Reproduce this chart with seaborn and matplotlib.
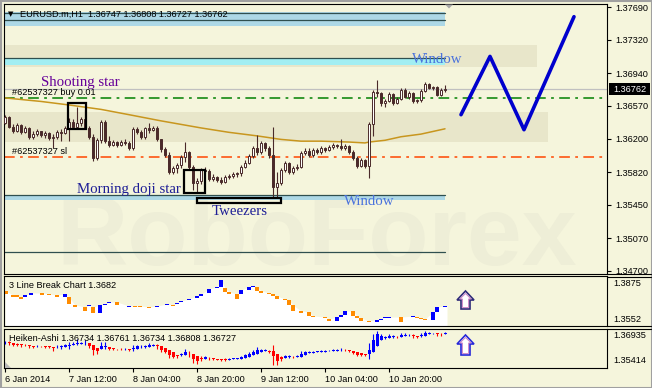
import matplotlib
matplotlib.use("Agg")
import matplotlib.pyplot as plt
from matplotlib.patches import Rectangle, Polygon
from matplotlib.transforms import Affine2D
import seaborn as sns
import numpy as np
import pandas as pd

# ---------------- data ----------------
first_open = 1.3638
closes = [
    1.3644, 1.3633, 1.3628, 1.3635, 1.3627, 1.3632, 1.3622, 1.3625, 1.3628, 1.3624,
    1.3626, 1.3621, 1.3622, 1.3627, 1.3626, 1.3632, 1.3639, 1.3633, 1.3638, 1.3642,
    1.3632, 1.3622, 1.3598, 1.3618, 1.3639, 1.3617, 1.3613, 1.3616, 1.3613, 1.3616,
    1.3615, 1.3609, 1.3631, 1.3627, 1.3622, 1.3632, 1.3630, 1.3632, 1.3619, 1.3608,
    1.3601, 1.3582, 1.3587, 1.3590, 1.3599, 1.3605, 1.3588, 1.3570, 1.3572, 1.3584,
    1.3583, 1.3574, 1.3576, 1.3573, 1.3571, 1.3576, 1.3578, 1.3580, 1.3581, 1.3588,
    1.3592, 1.3600, 1.3609, 1.3605, 1.3615, 1.3609, 1.3601, 1.3565, 1.3570, 1.3584,
    1.3592, 1.3582, 1.3587, 1.3588, 1.3604, 1.3606, 1.3601, 1.3607, 1.3605, 1.3609,
    1.3607, 1.3610, 1.3613, 1.3611, 1.3609, 1.3611, 1.3605, 1.3598, 1.3589, 1.3596,
    1.3589, 1.3636, 1.3673, 1.3672, 1.3660, 1.3662, 1.3670, 1.3660, 1.3665, 1.3675,
    1.3667, 1.3672, 1.3662, 1.3664, 1.3674, 1.3682, 1.3677, 1.3678, 1.3669, 1.36747,
    1.36762]
highs = [
    1.3647, 1.3645, 1.3636, 1.3638, 1.3636, 1.3634, 1.3633, 1.3628, 1.3631, 1.3628,
    1.3628, 1.3627, 1.3625, 1.3630, 1.3631, 1.3634, 1.3643, 1.3642, 1.3656, 1.3644,
    1.3652, 1.3634, 1.3625, 1.3621, 1.3641, 1.3641, 1.3623, 1.3618, 1.3617, 1.3618,
    1.3619, 1.3617, 1.3633, 1.3633, 1.3630, 1.3633, 1.3638, 1.3634, 1.3634, 1.3620,
    1.3610, 1.3605, 1.3589, 1.3592, 1.3601, 1.3616, 1.3606, 1.3590, 1.3575, 1.3587,
    1.3588, 1.3585, 1.3580, 1.3578, 1.3576, 1.3579, 1.3580, 1.3582, 1.3582, 1.3590,
    1.3596, 1.3602, 1.3611, 1.3624, 1.3617, 1.3616, 1.3611, 1.3633, 1.3582, 1.3587,
    1.3594, 1.3593, 1.3589, 1.3591, 1.3606, 1.3609, 1.3609, 1.3609, 1.3609, 1.3611,
    1.3610, 1.3613, 1.3615, 1.3614, 1.3619, 1.3614, 1.3613, 1.3607, 1.3600, 1.3598,
    1.3597, 1.3639, 1.3675, 1.3686, 1.3673, 1.3665, 1.3673, 1.3672, 1.3667, 1.3677,
    1.3677, 1.3674, 1.3673, 1.3665, 1.3676, 1.3684, 1.3683, 1.3679, 1.3679, 1.3677,
    1.36808]
lows = [
    1.3636, 1.3632, 1.3626, 1.3627, 1.3625, 1.3626, 1.3619, 1.3619, 1.3623, 1.3622,
    1.3621, 1.3618, 1.3609, 1.3619, 1.3617, 1.3625, 1.3617, 1.3632, 1.3631, 1.3634,
    1.3631, 1.3619, 1.3594, 1.3596, 1.3615, 1.3615, 1.3610, 1.3611, 1.3610, 1.3611,
    1.3613, 1.3607, 1.3607, 1.3625, 1.3619, 1.3619, 1.3626, 1.3628, 1.3617, 1.3605,
    1.3599, 1.3580, 1.3580, 1.3581, 1.3587, 1.3593, 1.3585, 1.3562, 1.3558, 1.3568,
    1.3581, 1.3572, 1.3572, 1.3571, 1.3568, 1.3570, 1.3574, 1.3575, 1.3576, 1.3578,
    1.3587, 1.3591, 1.3598, 1.3601, 1.3602, 1.3606, 1.3598, 1.3554, 1.3554, 1.3567,
    1.3582, 1.3580, 1.3580, 1.3584, 1.3587, 1.3601, 1.3599, 1.3599, 1.3602, 1.3602,
    1.3605, 1.3606, 1.3608, 1.3609, 1.3607, 1.3607, 1.3602, 1.3596, 1.3587, 1.3588,
    1.3587, 1.3575, 1.3623, 1.3667, 1.3657, 1.3656, 1.3661, 1.3658, 1.3659, 1.3664,
    1.3666, 1.3665, 1.3660, 1.3660, 1.3661, 1.3673, 1.3676, 1.3675, 1.3668, 1.3668,
    1.36727]

ma_bars = [0, 9, 16, 24, 31, 39, 49, 56, 63, 69, 74, 79, 86, 90, 91, 95, 99, 104, 110]
ma_values = [1.3666, 1.3662, 1.3658, 1.3653, 1.3647, 1.3640, 1.3632, 1.3627, 1.3623, 1.3619,
             1.3617, 1.3617, 1.3616, 1.3615, 1.3616, 1.3618, 1.3622, 1.3625, 1.3631]

zigzag_bars = [114, 121.25, 129.75, 142.25]
zigzag_values = [1.3647, 1.3713, 1.3630, 1.3758]

buy_level = 1.3666
sl_level = 1.3599
last_price = 1.36762
price_ticks = [1.37690, 1.37320, 1.36940, 1.36570, 1.36200, 1.35820, 1.35450, 1.35070, 1.34700]

lb_bars = [0.25, 2, 3, 4, 5, 6.5, 9.25, 11, 13, 15,
           16, 17.5, 20, 21, 22, 23.75, 25, 26, 28, 31,
           32.5, 33.75, 36, 38, 40.5, 42, 43, 44, 46, 48,
           49, 51, 53, 54, 55, 56, 58, 59, 61, 62,
           63, 64, 66, 67, 68, 70, 71, 72, 74, 76,
           77, 80, 81, 83, 84, 85, 87, 88, 89, 91,
           93, 94, 95, 96, 99, 102, 103, 104, 105, 107,
           108, 110]
lb_top = [1.3783, 1.3756, 1.3756, 1.3743, 1.3756, 1.3770, 1.3770, 1.3763, 1.3756, 1.3763,
          1.3743, 1.3690, 1.3677, 1.3690, 1.3677, 1.3690, 1.3697, 1.3710, 1.3710, 1.3684,
          1.3684, 1.3684, 1.3677, 1.3684, 1.3697, 1.3690, 1.3704, 1.3717, 1.3730, 1.3750,
          1.3763, 1.3796, 1.3809, 1.3855, 1.3803, 1.3776, 1.3763, 1.3789, 1.3809, 1.3816,
          1.3809, 1.3783, 1.3770, 1.3763, 1.3750, 1.3730, 1.3723, 1.3690, 1.3651, 1.3644,
          1.3618, 1.3611, 1.3598, 1.3611, 1.3625, 1.3651, 1.3651, 1.3618, 1.3605, 1.3585,
          1.3592, 1.3598, 1.3611, 1.3611, 1.3611, 1.3618, 1.3611, 1.3605, 1.3598, 1.3644,
          1.3677, 1.3684]
lb_bottom = [1.3763, 1.3743, 1.3743, 1.3730, 1.3743, 1.3756, 1.3756, 1.3756, 1.3743, 1.3743,
             1.3697, 1.3677, 1.3651, 1.3684, 1.3638, 1.3638, 1.3690, 1.3704, 1.3690, 1.3677,
             1.3677, 1.3677, 1.3671, 1.3677, 1.3690, 1.3684, 1.3697, 1.3710, 1.3723, 1.3737,
             1.3750, 1.3770, 1.3803, 1.3809, 1.3776, 1.3763, 1.3730, 1.3763, 1.3789, 1.3809,
             1.3783, 1.3770, 1.3763, 1.3750, 1.3730, 1.3723, 1.3690, 1.3651, 1.3638, 1.3618,
             1.3611, 1.3605, 1.3585, 1.3585, 1.3611, 1.3625, 1.3618, 1.3605, 1.3585, 1.3578,
             1.3578, 1.3592, 1.3605, 1.3608, 1.3578, 1.3611, 1.3605, 1.3598, 1.3592, 1.3592,
             1.3644, 1.3677]
lb_dir = list("oooobbooob" "ooobobbbob" "ooobbobbbb" "bbbbooobbb"
              "oooooooooo" "ooobbboooo" "bbbbobooob" "bb")

time_ticks = [0, 16, 32, 48, 64, 80, 96]
time_labels = ['6 Jan 2014', '7 Jan 12:00', '8 Jan 04:00', '8 Jan 20:00',
               '9 Jan 12:00', '10 Jan 04:00', '10 Jan 20:00']

# zones (price levels of drawn rectangles / lines)
zone_top = (1.37474, 1.37633)
zone_top_lines = [1.37622, 1.37542]
zone_beige1 = (1.37010, 1.37259)
zone_cyan2 = (1.37033, 1.37112)
zone_beige2 = (1.36155, 1.36500)
zone_cyan3 = (1.35503, 1.35560)
line_low = 1.34914

# ---------------- style ----------------
sns.set_theme(style="white")
plt.rcParams['font.family'] = ['Liberation Sans', 'DejaVu Sans']

W, H = 652, 388
BG = '#F5F5DC'
BAND = '#E8E6CA'
CANDLE = '#4A2A2A'
SMALL = 6.6

fig = plt.figure(figsize=(W / 100, H / 100), dpi=100, facecolor=BG)
PIX = Affine2D().scale(1.0 / W, -1.0 / H).translate(0, 1) + fig.transFigure


def ax_at(x0, y0, x1, y1):
    a = fig.add_axes([x0 / W, 1 - y1 / H, (x1 - x0) / W, (y1 - y0) / H])
    a.set_facecolor(BG)
    for s in a.spines.values():
        s.set_color('black')
        s.set_linewidth(0.8)
    return a


XL = (-0.25, 150.5)
ax = ax_at(4, 4, 607, 274)
ax2 = ax_at(4, 276, 607, 326)
ax3 = ax_at(4, 329, 607, 368)
for a in (ax, ax2, ax3):
    a.set_xlim(*XL)
    a.grid(False)

ax.set_ylim(1.34665, 1.37724)
ax2.set_ylim(1.35521, 1.38816)
ax3.set_ylim(1.35414, 1.36935)

# ---------------- main panel ----------------
o = np.array([first_open] + closes[:-1])
c = np.array(closes)
h = np.array(highs)
l = np.array(lows)
xb = np.arange(len(c))

# watermark
ax.text(56, 265, 'RoboForex', transform=PIX, fontsize=71, fontweight='bold',
        color='#EEEED7', family='Liberation Sans', zorder=0.2, clip_on=False)

# zones
ax.fill_between([XL[0], 110], *zone_top, color='#ADD8E6', lw=0, zorder=1)
ax.fill_between([XL[0], 133], *zone_beige1, color=BAND, lw=0, zorder=1)
ax.fill_between([XL[0], 110], *zone_cyan2, color='#A2EEF2', lw=0, zorder=1.1)
ax.fill_between([XL[0], 135.75], *zone_beige2, color=BAND, lw=0, zorder=1)
ax.fill_between([XL[0], 110], *zone_cyan3, color='#ADD8E6', lw=0, zorder=1)
for lv in zone_top_lines + [zone_cyan2[1], zone_cyan3[1], line_low]:
    ax.plot([XL[0], 110], [lv, lv], color='#2F4F4F', lw=0.9, zorder=1.2)

# level lines
ax.axhline(last_price, color='#C0C0C0', lw=0.9, zorder=1.3)
ax.axhline(buy_level, color='#008000', lw=1.1, dashes=(7, 3.5, 1.8, 3.5), zorder=1.3)
ax.axhline(sl_level, color='#FF4500', lw=1.1, dashes=(7, 3.5, 1.8, 3.5), zorder=1.3)

# moving average and candles
sns.lineplot(x=ma_bars, y=ma_values, ax=ax, color='#C8961E', lw=1.1, zorder=2)
up = c >= o
ax.vlines(xb, l, h, color=CANDLE, lw=0.8, zorder=3)
ax.bar(xb, np.maximum(np.abs(c - o), 0.00004), bottom=np.minimum(o, c), width=0.66,
       color=np.where(up, 'white', CANDLE), edgecolor=CANDLE, linewidth=0.7, zorder=4)

# pattern boxes
for (x0, x1, y0, y1) in [(15.75, 20.25, 1.36307, 1.36602),
                         (44.75, 50.0, 1.35582, 1.35843),
                         (48.0, 69.0, 1.35470, 1.35526)]:
    ax.add_patch(Rectangle((x0, y0), x1 - x0, y1 - y0, fill=False, ec='black',
                           lw=1.6, zorder=5))

# forecast zigzag
sns.lineplot(x=zigzag_bars, y=zigzag_values, ax=ax, sort=False, color='#0000CD',
             lw=2.6, zorder=6)

ax.set_xticks([])
ax.set_yticks(price_ticks)
ax.set_yticklabels([f'{v:.5f}' for v in price_ticks])
ax.yaxis.tick_right()
ax.tick_params(axis='y', direction='out', length=3, width=0.8, pad=3,
               labelsize=SMALL, colors='black', right=True, left=False)
ax.set_xlabel('')
ax.set_ylabel('')

# ---------------- 3 line break ----------------
lbx = np.array(lb_bars)
lbt = np.array(lb_top)
lbb = np.array(lb_bottom)
ax2.fill_between(np.r_[0, lbx, 110.5], np.r_[lbt[0], lbt, lbt[-1]], 1.35521,
                 color='white', lw=0, zorder=1)
ax2.bar(lbx, lbt - lbb, bottom=lbb, width=0.95,
        color=['#FF8C00' if d == 'o' else '#0000FF' for d in lb_dir], lw=0, zorder=2)
ax2.set_xticks([])
ax2.set_yticks([])

# ---------------- heiken ashi ----------------
ha_c = (o + h + l + c) / 4
ha_o = np.zeros_like(ha_c)
ha_o[0] = (o[0] + c[0]) / 2
for i in range(1, len(ha_c)):
    ha_o[i] = (ha_o[i - 1] + ha_c[i - 1]) / 2
ha_h = np.maximum.reduce([h, ha_o, ha_c])
ha_l = np.minimum.reduce([l, ha_o, ha_c])
ha_col = np.where(ha_c >= ha_o, '#0000FF', '#FF0000')
ax3.vlines(xb, ha_l, ha_h, colors=ha_col, lw=0.8, zorder=2)
ax3.bar(xb, np.maximum(np.abs(ha_c - ha_o), 0.00008), bottom=np.minimum(ha_o, ha_c),
        width=0.75, color=ha_col, lw=0, zorder=3)
ax3.set_yticks([])
ax3.set_xticks(time_ticks)
ax3.set_xticklabels(time_labels, ha='left')
ax3.tick_params(axis='x', direction='out', length=3, width=0.8, pad=2,
                labelsize=SMALL, colors='black', bottom=True)

# ---------------- texts ----------------
def ftxt(x, y, s, **kw):
    kw.setdefault('fontsize', SMALL)
    kw.setdefault('color', 'black')
    kw.setdefault('va', 'baseline')
    fig.text(x, y, s, transform=PIX, **kw)

ftxt(8, 16.5, '\u25BC', family=['DejaVu Sans'], fontsize=5)
ftxt(20, 16.5, 'EURUSD.m,H1  1.36747 1.36808 1.36727 1.36762')
ftxt(12, 95, '#62537327 buy 0.01')
ftxt(12, 154, '#62537327 sl')
ftxt(9, 288, '3 Line Break Chart 1.3682')
ftxt(9, 341, 'Heiken-Ashi 1.36734 1.36761 1.36734 1.36808 1.36727')

SERIF = ['Liberation Serif', 'DejaVu Serif']
ftxt(41, 86, 'Shooting star', family=SERIF, fontsize=10.7, color='#660099')
ftxt(77, 193, 'Morning doji star', family=SERIF, fontsize=10.7, color='#1E1E96')
ftxt(212, 215, 'Tweezers', family=SERIF, fontsize=10.7, color='#1E1E96')
ftxt(412, 63, 'Window', family=SERIF, fontsize=10.7, color='#4A72DC')
ftxt(344, 205, 'Window', family=SERIF, fontsize=10.7, color='#4A72DC')

ftxt(613, 284, '1.3875', va='center')
ftxt(613, 320, '1.3552', va='center')
ftxt(613, 336, '1.36935', va='center')
ftxt(613, 360.5, '1.35414', va='center')

# current price box
fig.patches.append(Rectangle((609, 83), 41, 12, transform=PIX, fc='black', ec='black', lw=0))
ftxt(613, 89, '1.36762', va='center', color='white')

# separators across price scale
for yy in (274, 276.5, 326, 329):
    fig.lines.append(plt.Line2D([607, 651], [yy, yy], transform=PIX, color='black', lw=0.8))

# shift marker triangles
fig.patches.append(Polygon([(445, 4.5), (453, 4.5), (449, 8.5)], closed=True,
                           transform=PIX, fc='#A8A8A8', ec='none'))
fig.patches.append(Polygon([(5, 362), (5, 368), (11, 368)], closed=True,
                           transform=PIX, fc='#B8B8B8', ec='none'))

# hollow up arrows
def up_arrow(cx, top, bottom, edge):
    pts = [(cx, top), (cx + 8.5, top + 9), (cx + 4.5, top + 9), (cx + 4.5, bottom),
           (cx - 4.5, bottom), (cx - 4.5, top + 9), (cx - 8.5, top + 9)]
    fig.patches.append(Polygon(pts, closed=True, transform=PIX, fc='white', ec=edge, lw=1.2))
    pts2 = [(cx, top + 2.5), (cx + 5.5, top + 8), (cx + 3, top + 8), (cx + 3, bottom - 1.5),
            (cx - 3, bottom - 1.5), (cx - 3, top + 8), (cx - 5.5, top + 8)]
    fig.patches.append(Polygon(pts2, closed=True, transform=PIX, fc='none', ec='#C878C0', lw=0.6))

up_arrow(465.5, 291, 309, '#2E2A78')
up_arrow(465.5, 335, 355, '#2828D8')

# outer frame
fig.patches.append(Rectangle((0.5, 0.5), W - 1, H - 1, transform=PIX, fill=False,
                             ec='#A0A0A0', lw=1.5))

fig.savefig('out.png', dpi=100, facecolor=BG)
